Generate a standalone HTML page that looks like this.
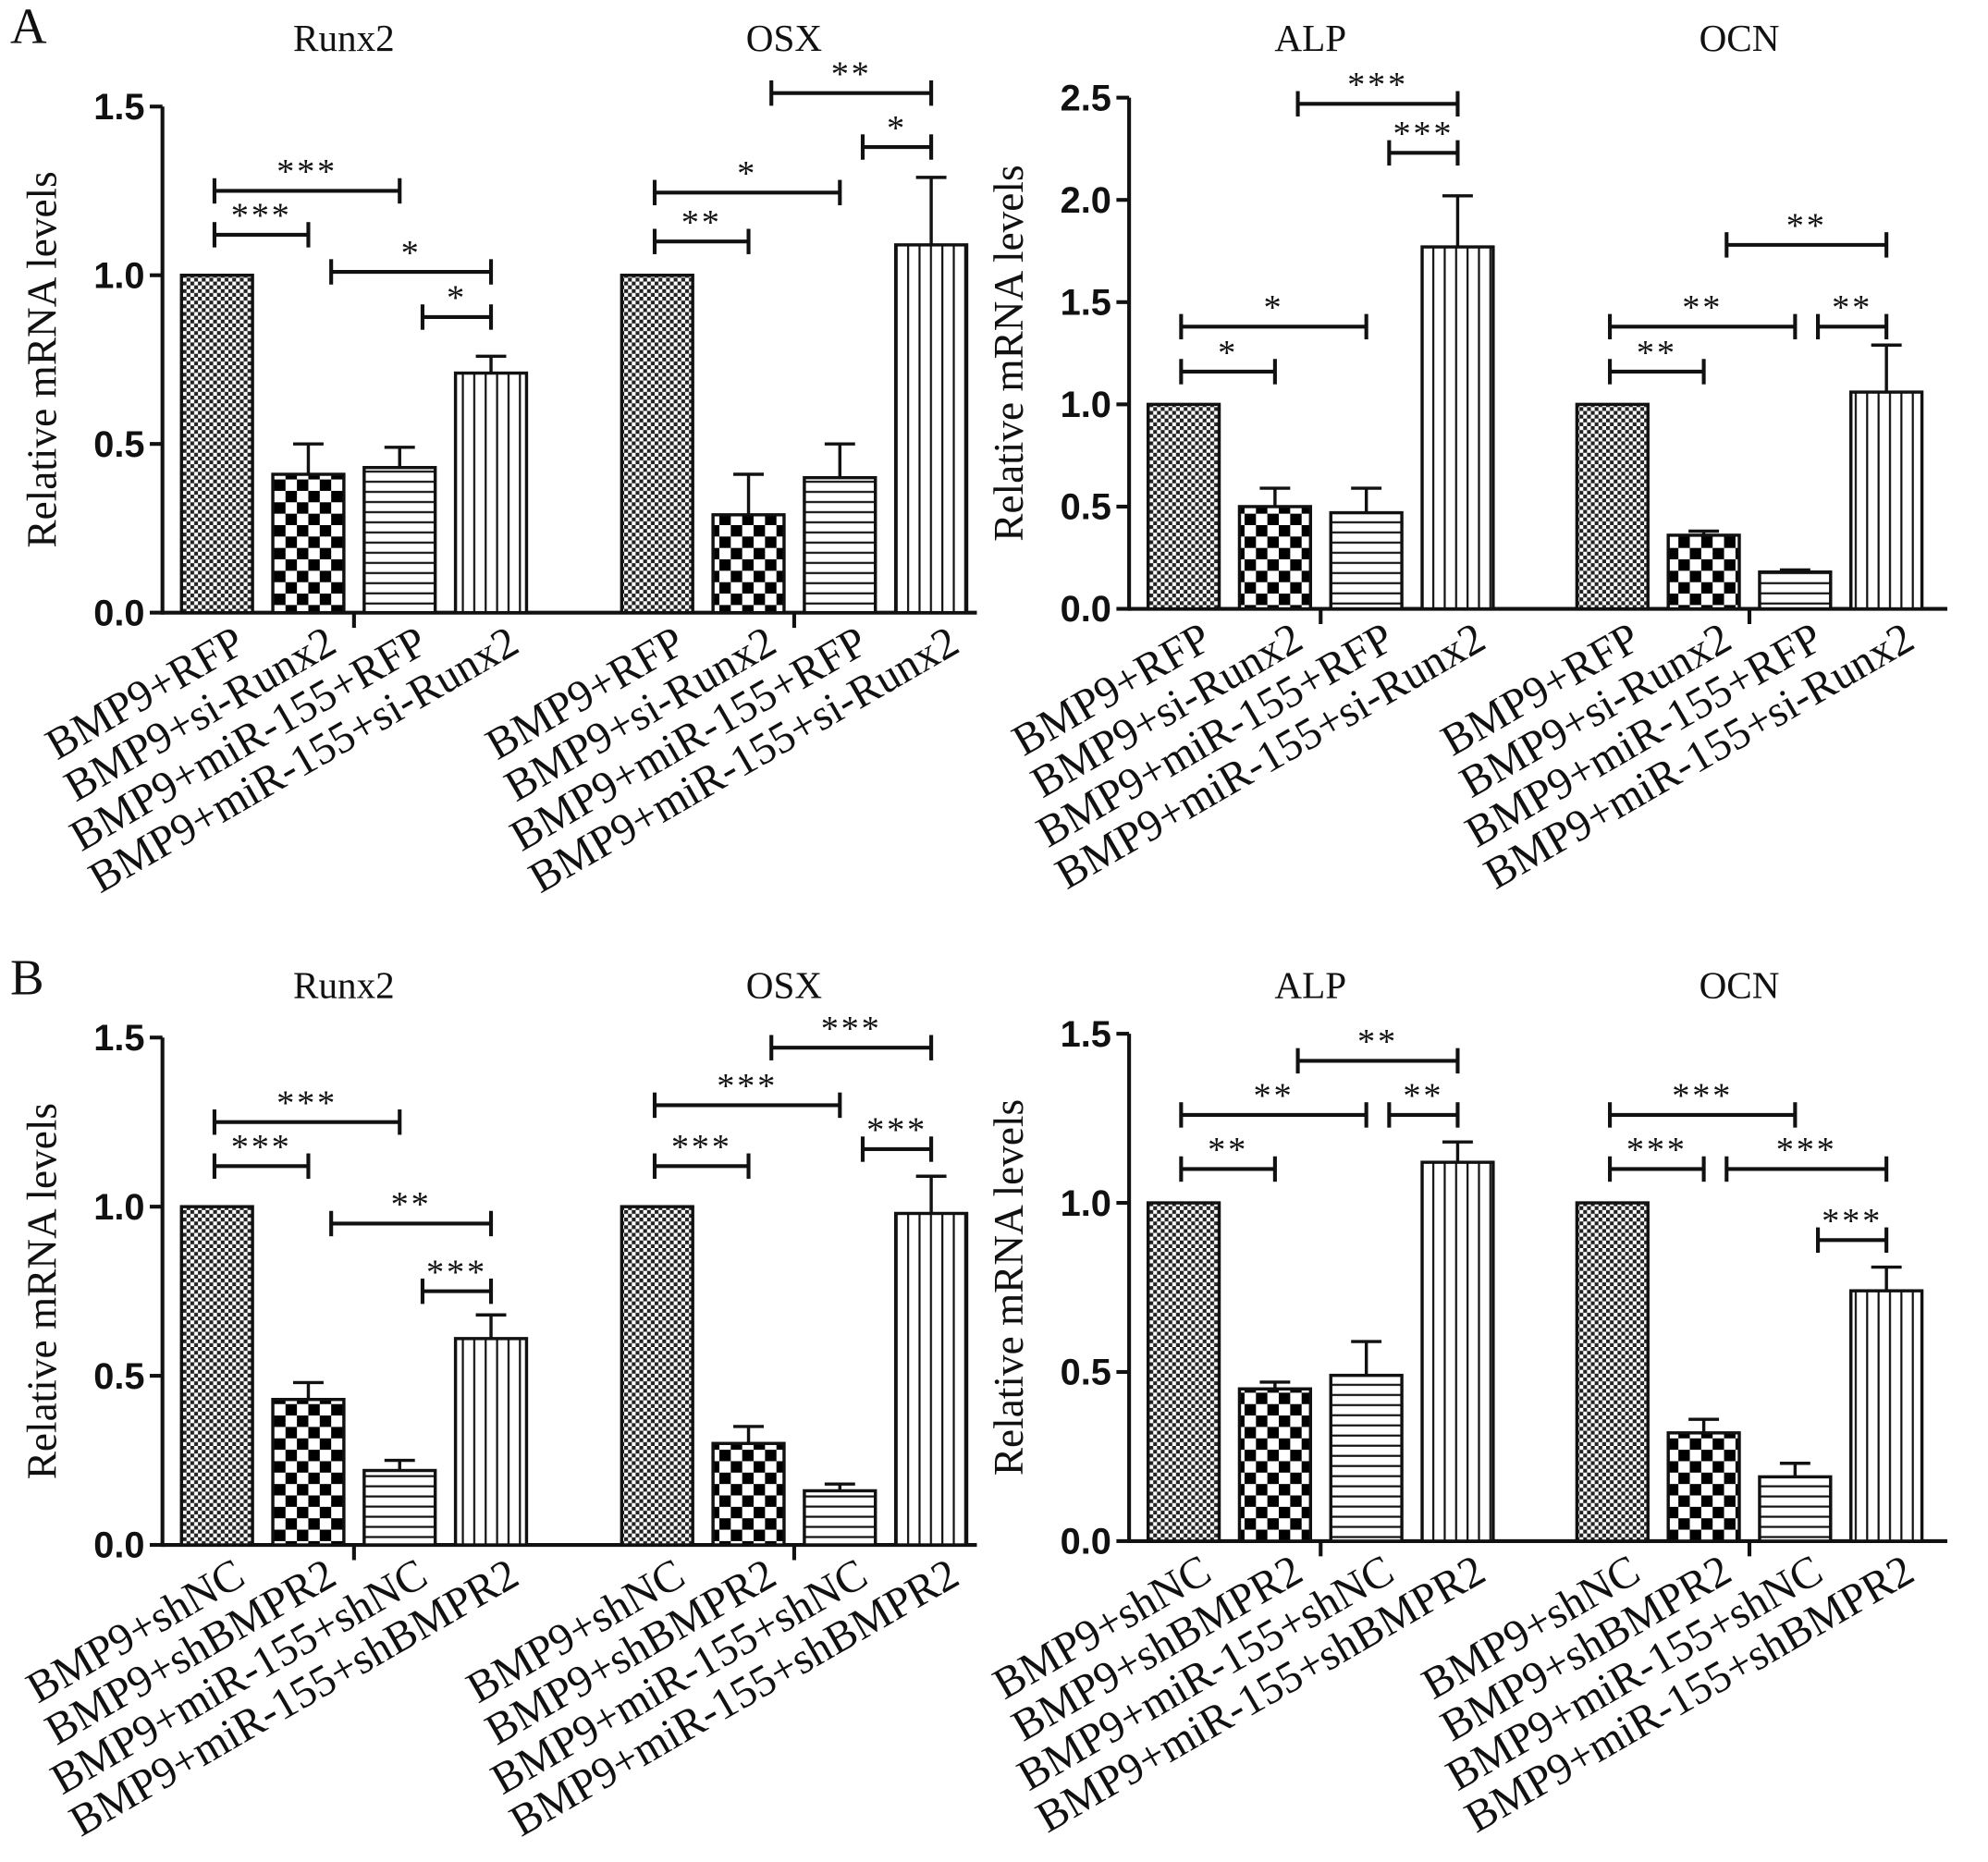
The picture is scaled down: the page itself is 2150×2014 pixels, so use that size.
<!DOCTYPE html>
<html><head><meta charset="utf-8"><style>
html,body{margin:0;padding:0;background:#fff;}
svg{display:block;}
text{font-family:"Liberation Serif",serif;fill:#111;}
.tick{font-family:"Liberation Sans",sans-serif;font-weight:bold;font-size:29px;}
</style></head><body>
<svg id="fig" width="2150" height="2014" viewBox="0 0 1567 1468" xmlns="http://www.w3.org/2000/svg">
<defs>
<pattern id="p0" width="6" height="6" patternUnits="userSpaceOnUse"><rect width="6" height="6" fill="#fff"/><rect width="3" height="3" fill="#222"/><rect x="3" y="3" width="3" height="3" fill="#222"/></pattern>
<pattern id="p1" width="18" height="18" patternUnits="userSpaceOnUse"><rect width="18" height="18" fill="#fff"/><rect width="9" height="9" fill="#000"/><rect x="9" y="9" width="9" height="9" fill="#000"/></pattern>
<pattern id="p2" width="8" height="8" patternUnits="userSpaceOnUse"><rect width="8" height="8" fill="#fff"/><rect y="3" width="8" height="1.6" fill="#111"/></pattern>
<pattern id="p3" width="9" height="9" patternUnits="userSpaceOnUse"><rect width="9" height="9" fill="#fff"/><rect x="4" width="1.6" height="9" fill="#111"/></pattern>
</defs>
<text x="8" y="34" font-size="40">A</text>
<text x="8" y="784" font-size="40">B</text>
</svg>
<script>
// Panel A left (Runx2, OSX)
const aLeftTitles = ["Runx2", "OSX"];
const aLeftValues = [1.0, 0.41, 0.43, 0.71, 1.0, 0.29, 0.40, 1.09];
const aLeftErrors = [0, 0.50, 0.49, 0.76, 0, 0.41, 0.50, 1.29];
const aLeftTicks = ["0.0", "0.5", "1.0", "1.5"];
const aLeftSig = [[0,2,1.25,"***"],[0,1,1.12,"***"],[1,3,1.01,"*"],[2,3,0.876,"*"],[4,5,1.10,"**"],[4,6,1.245,"*"],[5,7,1.54,"**"],[6,7,1.38,"*"]];
const aLabels = ["BMP9+RFP","BMP9+si-Runx2","BMP9+miR-155+RFP","BMP9+miR-155+si-Runx2"];
// Panel A right (ALP, OCN)
const aRightTitles = ["ALP", "OCN"];
const aRightValues = [1.0, 0.50, 0.47, 1.77, 1.0, 0.36, 0.18, 1.06];
const aRightErrors = [0, 0.59, 0.59, 2.02, 0, 0.38, 0.19, 1.29];
const aRightTicks = ["0.0", "0.5", "1.0", "1.5", "2.0", "2.5"];
const aRightSig = [[1,3,2.47,"***"],[2,3,2.23,"***"],[0,2,1.38,"*"],[0,1,1.16,"*"],[5,7,1.78,"**"],[4,6,1.38,"**"],[4,5,1.16,"**"],[6,7,1.38,"**"]];
// Panel B left
const bLeftTitles = ["Runx2", "OSX"];
const bLeftValues = [1.0, 0.43, 0.22, 0.61, 1.0, 0.30, 0.16, 0.98];
const bLeftErrors = [0, 0.48, 0.25, 0.68, 0, 0.35, 0.18, 1.09];
const bLeftTicks = ["0.0", "0.5", "1.0", "1.5"];
const bLeftSig = [[0,2,1.25,"***"],[0,1,1.12,"***"],[1,3,0.95,"**"],[2,3,0.75,"***"],[5,7,1.47,"***"],[4,6,1.30,"***"],[4,5,1.12,"***"],[6,7,1.17,"***"]];
const bLabels = ["BMP9+shNC","BMP9+shBMPR2","BMP9+miR-155+shNC","BMP9+miR-155+shBMPR2"];
// Panel B right
const bRightTitles = ["ALP", "OCN"];
const bRightValues = [1.0, 0.45, 0.49, 1.12, 1.0, 0.32, 0.19, 0.74];
const bRightErrors = [0, 0.47, 0.59, 1.18, 0, 0.36, 0.23, 0.81];
const bRightTicks = ["0.0", "0.5", "1.0", "1.5"];
const bRightSig = [[1,3,1.42,"**"],[0,2,1.26,"**"],[2,3,1.26,"**"],[0,1,1.10,"**"],[4,6,1.26,"***"],[4,5,1.10,"***"],[5,7,1.10,"***"],[6,7,0.89,"***"]];

const NS = "http://www.w3.org/2000/svg";
const svg = document.getElementById("fig");
function mk(tag, attrs, parent){const e=document.createElementNS(NS,tag);for(const k in attrs)e.setAttribute(k,attrs[k]);(parent||svg).appendChild(e);return e;}

function panel(id, cfg){
  const g = mk("g",{});
  
  
  const ymax = parseFloat(cfg.ticks[cfg.ticks.length-1]);
  const yS = v => cfg.base - (v/ymax)*(cfg.base-cfg.top);
  const xS = i => cfg.ax + 43 + (i%4)*72 + Math.floor(i/4)*cfg.gOff;
  const bw = 56;
  mk("line",{x1:cfg.ax,y1:cfg.top,x2:cfg.ax,y2:cfg.base+1.5,stroke:"#111","stroke-width":3},g);
  mk("line",{x1:cfg.ax,y1:cfg.base,x2:cfg.ax+cfg.len,y2:cfg.base,stroke:"#111","stroke-width":3},g);
  cfg.ticks.forEach(t=>{
    const y=yS(parseFloat(t));
    mk("line",{x1:cfg.ax-10,y1:y,x2:cfg.ax,y2:y,stroke:"#111","stroke-width":3},g);
    const tx=mk("text",{x:cfg.ax-14,y:y+10,"text-anchor":"end",class:"tick"},g);
    tx.textContent=t;
    
    
  });
  const yt=mk("text",{x:0,y:0,"font-size":33,"text-anchor":"middle",transform:`translate(${cfg.ax-84},${(cfg.top+cfg.base)/2}) rotate(-90)`},g);
  yt.textContent="Relative mRNA levels";
  
  
  for(let gi=0;gi<2;gi++){
    const cx=(xS(gi*4+1)+xS(gi*4+2))/2;
    mk("line",{x1:cx,y1:cfg.base,x2:cx,y2:cfg.base+12,stroke:"#111","stroke-width":3},g);
    const tt=mk("text",{x:cx-8,y:cfg.titleY,"font-size":30,"text-anchor":"middle"},g);
    tt.textContent=cfg.titles[gi];
    
    
  }
  cfg.values.forEach((v,i)=>{
    const cx=xS(i);
    if(cfg.errors[i]>v){
      mk("line",{x1:cx,y1:yS(v),x2:cx,y2:yS(cfg.errors[i]),stroke:"#111","stroke-width":2.5},g);
      mk("line",{x1:cx-12,y1:yS(cfg.errors[i]),x2:cx+12,y2:yS(cfg.errors[i]),stroke:"#111","stroke-width":2.5},g);
    }
    const r=mk("rect",{x:cx-bw/2,y:yS(v),width:bw,height:cfg.base-yS(v),fill:`url(#p${i%4})`,stroke:"#111","stroke-width":2.5},g);
    
    
    const lb=mk("text",{x:0,y:0,"font-size":35,"text-anchor":"end",transform:`translate(${cx+24},${cfg.base+30}) rotate(-30)`},g);
    lb.textContent=cfg.labels[i%4];
    
    
  });
  cfg.sig.forEach(s=>{
    const x1=xS(s[0])+(s[0]%4===0?-2:18), x2=xS(s[1]);
    const y=yS(s[2]);
    const bg=mk("g",{},g);
    
    
    mk("line",{x1:x1,y1:y,x2:x2,y2:y,stroke:"#111","stroke-width":3},bg);
    mk("line",{x1:x1,y1:y-10,x2:x1,y2:y+10,stroke:"#111","stroke-width":3},bg);
    mk("line",{x1:x2,y1:y-10,x2:x2,y2:y+10,stroke:"#111","stroke-width":3},bg);
    const st=mk("text",{x:(x1+x2)/2,y:y-6,"font-size":28,"text-anchor":"middle","letter-spacing":"2"},bg);
    st.textContent=s[3];
  });
}
panel("panel-a-runx2-osx",{ax:128,top:84,base:483,len:642,gOff:347,titleY:40,titles:aLeftTitles,values:aLeftValues,errors:aLeftErrors,ticks:aLeftTicks,sig:aLeftSig,labels:aLabels});
panel("panel-a-alp-ocn",{ax:890,top:77,base:480,len:645,gOff:338,titleY:40,titles:aRightTitles,values:aRightValues,errors:aRightErrors,ticks:aRightTicks,sig:aRightSig,labels:aLabels});
panel("panel-b-runx2-osx",{ax:128,top:818,base:1218,len:642,gOff:347,titleY:787,titles:bLeftTitles,values:bLeftValues,errors:bLeftErrors,ticks:bLeftTicks,sig:bLeftSig,labels:bLabels});
panel("panel-b-alp-ocn",{ax:890,top:815,base:1215,len:645,gOff:338,titleY:787,titles:bRightTitles,values:bRightValues,errors:bRightErrors,ticks:bRightTicks,sig:bRightSig,labels:bLabels});
</script>
</body></html>
